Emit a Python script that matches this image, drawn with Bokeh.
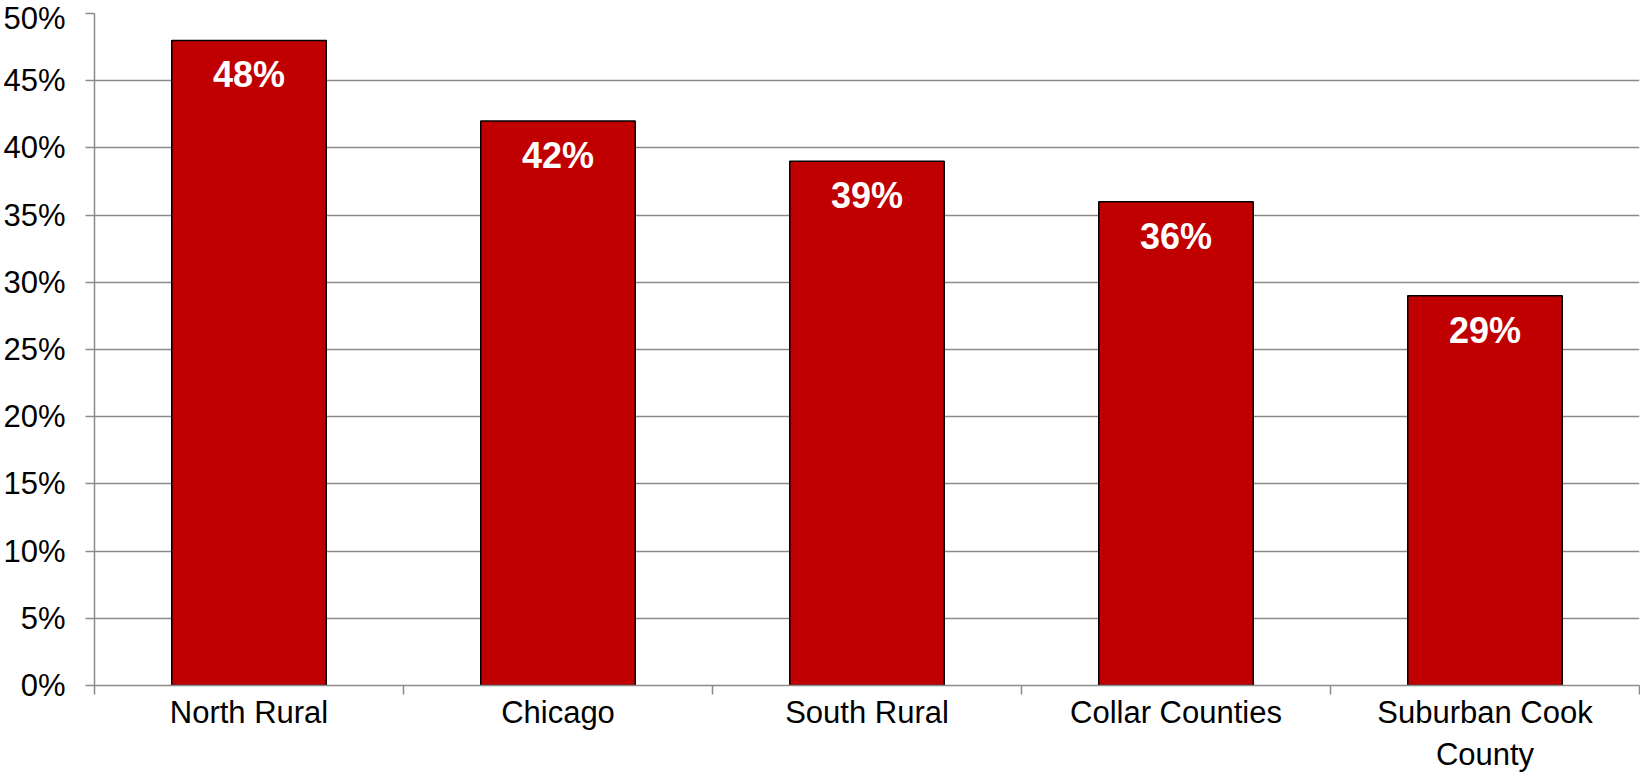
from bokeh.plotting import figure
from bokeh.models import ColumnDataSource, Range1d, FixedTicker, PrintfTickFormatter, LabelSet
from bokeh.core.properties import value
from bokeh.embed import file_html
from bokeh.resources import INLINE

categories = ["North Rural", "Chicago", "South Rural", "Collar Counties", "Suburban Cook\nCounty"]
values = [48, 42, 39, 36, 29]
labels = ["48%", "42%", "39%", "36%", "29%"]
y_ticks = [0, 5, 10, 15, 20, 25, 30, 35, 40, 45, 50]

xs = [i + 0.5 for i in range(len(categories))]
src = ColumnDataSource(dict(x=xs, top=values, label=labels))

GRAY = "#8a8a8a"
FONT = "Liberation Sans"

p = figure(width=1640, height=774, output_backend="svg", toolbar_location=None,
           x_range=Range1d(0, len(categories)), y_range=Range1d(0, 50),
           min_border_left=94, min_border_right=1, min_border_top=13, min_border_bottom=82)
p.outline_line_color = None
p.background_fill_color = "white"
p.border_fill_color = "white"

p.vbar(x="x", top="top", width=0.5, bottom=0, source=src,
       fill_color="#C00000", line_color="black", line_width=1.5)

labs = LabelSet(x="x", y="top", text="label", source=src, text_align="center",
                text_baseline="top", y_offset=-14, text_color="white",
                text_font=value(FONT), text_font_size="36px", text_font_style="bold")
p.add_layout(labs)

# y axis
p.yaxis.ticker = FixedTicker(ticks=y_ticks)
p.yaxis.formatter = PrintfTickFormatter(format="%d%%")
p.yaxis.axis_line_color = GRAY
p.yaxis.axis_line_width = 1.5
p.yaxis.major_tick_line_color = GRAY
p.yaxis.major_tick_line_width = 1.5
p.yaxis.major_tick_out = 9
p.yaxis.major_tick_in = 0
p.yaxis.minor_tick_line_color = None
p.yaxis.major_label_standoff = 20
p.yaxis.major_label_text_font = FONT
p.yaxis.major_label_text_font_size = "31px"
p.yaxis.major_label_text_color = "black"

# x axis: labels at centers, ticks at boundaries
p.xaxis.ticker = FixedTicker(ticks=xs, minor_ticks=list(range(len(categories) + 1)))
p.xaxis.major_label_overrides = {x: c for x, c in zip(xs, categories)}
p.xaxis.axis_line_color = GRAY
p.xaxis.axis_line_width = 1.5
p.xaxis.major_tick_line_color = None
p.xaxis.major_tick_out = 0
p.xaxis.major_tick_in = 0
p.xaxis.minor_tick_line_color = GRAY
p.xaxis.minor_tick_line_width = 1.5
p.xaxis.minor_tick_out = 9
p.xaxis.minor_tick_in = 0
p.xaxis.major_label_standoff = 0
p.xaxis.major_label_text_font = FONT
p.xaxis.major_label_text_font_size = "31px"
p.xaxis.major_label_text_color = "black"

p.xgrid.grid_line_color = None
p.ygrid.ticker = FixedTicker(ticks=y_ticks)
p.ygrid.grid_line_color = GRAY
p.ygrid.grid_line_width = 1.5

open("out.html", "w").write(file_html(p, INLINE))
